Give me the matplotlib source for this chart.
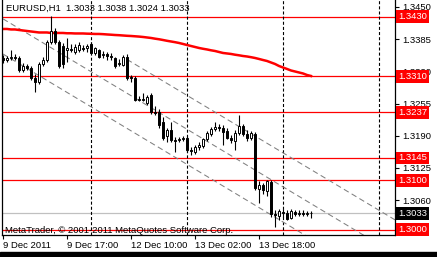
import matplotlib
matplotlib.use("Agg")
import matplotlib.pyplot as plt
import matplotlib.transforms as mtransforms
from matplotlib.patches import Rectangle
import numpy as np

plt.rcParams['font.family'] = ['Liberation Sans', 'DejaVu Sans']
plt.rcParams['lines.scale_dashes'] = False

# EURUSD H1 bars, 9 Dec 2011 01:00 .. 14 Dec 2011 07:00
opens = [1.3347, 1.3343, 1.3347, 1.3349, 1.3347, 1.3323, 1.3331, 1.3327, 1.3307, 1.3298,
         1.3335, 1.3343, 1.3379, 1.3402, 1.3379, 1.3371, 1.3363, 1.3365, 1.3359, 1.3363,
         1.3367, 1.3367, 1.3375, 1.3357, 1.3363, 1.3353, 1.3355, 1.3351, 1.3347, 1.3335,
         1.3333, 1.3349, 1.3309, 1.3307, 1.3262, 1.3262, 1.3256, 1.3272, 1.3238, 1.3238,
         1.3218, 1.3189, 1.3202, 1.3181, 1.3181, 1.3183, 1.3185, 1.3161, 1.3157, 1.3167,
         1.3169, 1.3183, 1.3193, 1.3204, 1.3208, 1.3206, 1.3200, 1.3185, 1.3179, 1.3195,
         1.3210, 1.3193, 1.3185, 1.3193, 1.3082, 1.3090, 1.3078, 1.3096, 1.3032, 1.3028,
         1.3036, 1.3034, 1.3024, 1.3036, 1.3032, 1.3034, 1.3032, 1.3033]
highs = [1.3353, 1.3351, 1.3363, 1.3355, 1.3351, 1.3337, 1.3335, 1.3331, 1.3315, 1.3339,
         1.3349, 1.3383, 1.3432, 1.3408, 1.3383, 1.3377, 1.3387, 1.3375, 1.3375, 1.3379,
         1.3373, 1.3375, 1.3379, 1.3369, 1.3365, 1.3361, 1.3359, 1.3357, 1.3349, 1.3345,
         1.3353, 1.3355, 1.3313, 1.3311, 1.3270, 1.3276, 1.3272, 1.3276, 1.3250, 1.3244,
         1.3228, 1.3206, 1.3218, 1.3187, 1.3187, 1.3189, 1.3189, 1.3167, 1.3171, 1.3177,
         1.3185, 1.3200, 1.3208, 1.3218, 1.3214, 1.3212, 1.3206, 1.3191, 1.3202, 1.3232,
         1.3214, 1.3202, 1.3200, 1.3198, 1.3099, 1.3094, 1.3101, 1.3101, 1.3040, 1.3042,
         1.3042, 1.3040, 1.3042, 1.3040, 1.3040, 1.3040, 1.3038, 1.3038]
lows = [1.3337, 1.3339, 1.3343, 1.3343, 1.3319, 1.3319, 1.3323, 1.3303, 1.3278, 1.3294,
        1.3331, 1.3339, 1.3375, 1.3375, 1.3327, 1.3327, 1.3339, 1.3359, 1.3355, 1.3359,
        1.3361, 1.3359, 1.3355, 1.3353, 1.3347, 1.3347, 1.3343, 1.3343, 1.3327, 1.3331,
        1.3331, 1.3303, 1.3298, 1.3260, 1.3260, 1.3260, 1.3252, 1.3234, 1.3232, 1.3206,
        1.3181, 1.3177, 1.3177, 1.3157, 1.3177, 1.3179, 1.3157, 1.3151, 1.3153, 1.3161,
        1.3165, 1.3179, 1.3189, 1.3200, 1.3200, 1.3171, 1.3183, 1.3175, 1.3161, 1.3191,
        1.3189, 1.3179, 1.3181, 1.3080, 1.3054, 1.3072, 1.3068, 1.3026, 1.3006, 1.3020,
        1.3026, 1.3020, 1.3022, 1.3028, 1.3028, 1.3028, 1.3028, 1.3024]
closes = [1.3343, 1.3347, 1.3349, 1.3347, 1.3323, 1.3331, 1.3327, 1.3307, 1.3298, 1.3335,
          1.3343, 1.3379, 1.3402, 1.3379, 1.3331, 1.3335, 1.3367, 1.3363, 1.3369, 1.3373,
          1.3366, 1.3371, 1.3357, 1.3367, 1.3349, 1.3355, 1.3351, 1.3349, 1.3331, 1.3337,
          1.3349, 1.3307, 1.3307, 1.3262, 1.3264, 1.3264, 1.3268, 1.3238, 1.3236, 1.3212,
          1.3185, 1.3202, 1.3181, 1.3179, 1.3183, 1.3185, 1.3161, 1.3159, 1.3167, 1.3171,
          1.3183, 1.3195, 1.3204, 1.3208, 1.3206, 1.3198, 1.3185, 1.3181, 1.3195, 1.3210,
          1.3193, 1.3185, 1.3195, 1.3084, 1.3090, 1.3080, 1.3099, 1.3032, 1.3030, 1.3038,
          1.3034, 1.3022, 1.3038, 1.3032, 1.3034, 1.3032, 1.3034, 1.3033]

# moving average (red)
ma = [1.34056, 1.34056, 1.34046, 1.34046, 1.34035, 1.34025, 1.34015, 1.34005, 1.33995, 1.33985,
      1.33985, 1.33985, 1.33975, 1.33975, 1.33975, 1.33975, 1.33969, 1.33969, 1.33965, 1.33965,
      1.33965, 1.33961, 1.33959, 1.33955, 1.33955, 1.33951, 1.33945, 1.33940, 1.33934, 1.33930,
      1.33924, 1.33918, 1.33914, 1.33908, 1.33902, 1.33894, 1.33884, 1.33874, 1.33860, 1.33848,
      1.33833, 1.33817, 1.33803, 1.33789, 1.33773, 1.33753, 1.33732, 1.33712, 1.33692, 1.33672,
      1.33656, 1.33642, 1.33625, 1.33611, 1.33591, 1.33571, 1.33561, 1.33551, 1.33536, 1.33524,
      1.33510, 1.33500, 1.33486, 1.33470, 1.33450, 1.33429, 1.33409, 1.33379, 1.33349, 1.33308,
      1.33278, 1.33248, 1.33217, 1.33197, 1.33177, 1.33157, 1.33126, 1.33106]

# horizontal levels and channel lines (bar, price) -> (bar, price)
levels = [1.3430, 1.3310, 1.3237, 1.3145, 1.3100, 1.3000]
bid = 1.3033
channels = [((0, 1.3426), (98, 1.2951)),
            ((0, 1.3355), (98, 1.2880)),
            ((31, 1.3344), (98, 1.3020))]
day_breaks = [22, 46, 70, 94]

yticks = [1.3450, 1.3385, 1.3320, 1.3255, 1.3190, 1.3125, 1.3060]
xtick_pos = [0, 16, 32, 48, 64]
xtick_labels = ['9 Dec 2011', '9 Dec 17:00', '12 Dec 10:00', '13 Dec 02:00', '13 Dec 18:00']

W, H = 437, 257
fig = plt.figure(figsize=(W / 100, H / 100), dpi=100)
ax = fig.add_axes([2 / W, 22 / H, 393 / W, 235 / H])
ax.set_xlim(-0.25, 98)
ax.set_ylim(1.29894, 1.34641)

x = np.arange(len(closes))
o = np.array(opens); c = np.array(closes)

for lv in levels:
    ax.axhline(lv, color='#ff0000', lw=0.9, zorder=1)
ax.axhline(bid, color='#c0c0c0', lw=0.9, zorder=1)
for d in day_breaks:
    ax.axvline(d, color='black', lw=0.8, dashes=(2.2, 1.5), zorder=1)
for (x0, p0), (x1, p1) in channels:
    ax.plot([x0, x1], [p0, p1], color='#808080', lw=0.75, dashes=(4, 2.5), zorder=1)

ax.plot(x, ma, color='#ff0000', lw=1.8, zorder=2)

ax.vlines(x, lows, highs, color='black', lw=0.8, zorder=3)
up = c >= o
ax.bar(x[up], (c - o)[up], bottom=o[up], width=0.65, color='white',
       edgecolor='black', lw=0.7, zorder=4)
ax.bar(x[~up], (c - o)[~up], bottom=o[~up], width=0.65, color='black',
       edgecolor='black', lw=0.7, zorder=4)

ax.yaxis.tick_right()
ax.set_yticks(yticks)
ax.set_yticklabels(['%.4f' % v for v in yticks])
ax.set_xticks(xtick_pos)
ax.set_xticklabels(xtick_labels, ha='left')
ax.tick_params(axis='y', direction='out', length=3, width=0.8, pad=2, labelsize=6.8)
ax.tick_params(axis='x', direction='out', length=3, width=0.8, pad=1.5, labelsize=6.8)
ax.spines['top'].set_visible(False)
for s in ['left', 'right', 'bottom']:
    ax.spines[s].set_linewidth(0.9)

trans = mtransforms.blended_transform_factory(ax.transAxes, ax.transData)
for lv in levels:
    ax.text(1.008, lv, '%.4f' % lv, transform=trans, color='white', fontsize=6.8,
            va='center', ha='left', clip_on=False, zorder=6,
            bbox=dict(boxstyle='square,pad=0.2', fc='#ff0000', ec='none'))
ax.text(1.008, bid, '%.4f' % bid, transform=trans, color='white', fontsize=6.8,
        va='center', ha='left', clip_on=False, zorder=6,
        bbox=dict(boxstyle='square,pad=0.2', fc='black', ec='none'))

fig.text(6 / W, 1 - 4 / H, 'EURUSD,H1  1.3033 1.3038 1.3024 1.3033',
         fontsize=6.8, va='top', ha='left')
fig.text(5 / W, 24 / H, 'MetaTrader, \u00a9 2001-2011 MetaQuotes Software Corp.',
         fontsize=6.8, va='baseline', ha='left')

fig.patches.append(Rectangle((0, 0), 1, 5 / H, transform=fig.transFigure,
                             color='black', zorder=10))

fig.savefig('out.png', dpi=100)
